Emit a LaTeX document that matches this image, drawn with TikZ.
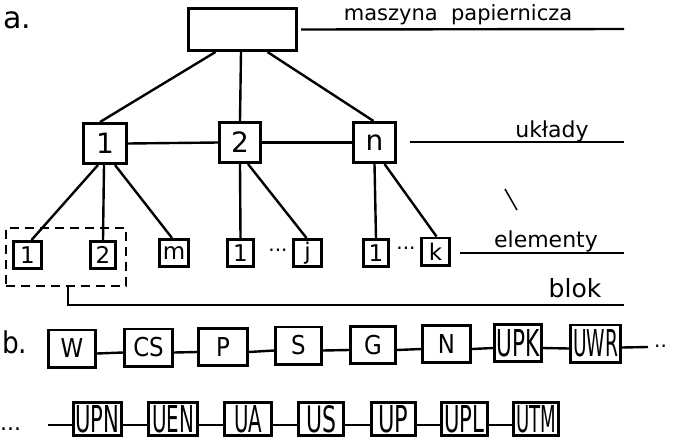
\documentclass[tikz,border=0pt]{standalone}
\usepackage{graphicx}
\usepackage{fontspec}
\setmainfont{DejaVu Sans}
\newfontfamily\semifont[FakeStretch=0.88]{DejaVu Sans}
\newcommand{\tl}[2]{\resizebox{#1pt}{27pt}{#2}}

\begin{document}
\begin{tikzpicture}[x=1pt,y=-1pt,
  hbox/.style={draw, line width=3pt, inner sep=0pt, minimum width=#1, minimum height=40pt,
    font=\fontsize{28}{28}\selectfont},
  hbox/.default=42pt,
  elem/.style={draw, line width=2.8pt, inner sep=0pt, minimum width=#1, minimum height=27.2pt,
    font=\fontsize{23}{23}\selectfont},
  elem/.default=27pt,
  cbox/.style={draw, line width=2.8pt, inner sep=0pt, minimum width=#1, minimum height=37.2pt,
    font=\semifont\fontsize{26}{26}\selectfont},
  cbox/.default=48pt,
  dbox/.style={cbox=#1, minimum height=33.2pt},
  link/.style={line width=2.4pt},
  lab/.style={anchor=base, inner sep=0pt},
  dots/.style={inner sep=0pt, font=\fontsize{20}{20}\selectfont}
]
\useasboundingbox (0,0) rectangle (675,440);

% ---------- part a: hierarchy ----------
\node[lab, anchor=base west, font=\fontsize{30}{30}\selectfont] (la) at (3,28) {a.};

\node[draw, line width=3pt, inner sep=0pt, minimum width=108pt, minimum height=42pt]
  (top) at (242.5,29.5) {};

\node[hbox=43pt] (b1) at (105,143.5) {1};
\node[hbox=41pt] (b2) at (240,142.5) {2};
\node[hbox=42pt] (bn) at (374.5,142.5) {n};

\draw[link] ([xshift=-27pt]top.south) -- ([xshift=-5pt]b1.north);
\draw[link] ([xshift=-1.5pt]top.south) -- (b2.north);
\draw[link] ([xshift=25pt]top.south) -- ([xshift=-1pt]bn.north);
\draw[link] (b1.east) -- (b2.west);
\draw[link] (b2.east) -- (bn.west);

% elements
\node[elem=28.2pt] (e11) at (27.5,255) {1};
\node[elem=25.2pt] (e12) at (103,255) {2};
\node[elem=29.2pt] (e1m) at (174,253) {m};
\node[elem=26.2pt] (e21) at (240.5,253) {1};
\node[elem=28.2pt] (e2j) at (307.5,253) {j};
\node[elem=25.2pt] (en1) at (376,253) {1};
\node[elem=28.2pt] (enk) at (435.5,251.5) {k};
\node[dots] (d1) at (278,250) {...};
\node[dots] (d2) at (406,248.5) {...};

\draw[link] ([xshift=-7pt]b1.south) -- ([xshift=4pt]e11.north);
\draw[link] ([xshift=-1pt]b1.south) -- (e12.north);
\draw[link] ([xshift=10pt]b1.south) -- ([xshift=-2pt]e1m.north);
\draw[link] (b2.south) -- (e21.north);
\draw[link] ([xshift=8pt]b2.south) -- ([xshift=-1pt]e2j.north);
\draw[link] (bn.south) -- (en1.north);
\draw[link] ([xshift=10pt]bn.south) -- ([xshift=1pt]enk.north);

% block frame and its leader
\node[draw, dashed, dash pattern=on 9pt off 6pt, line width=2.4pt, inner sep=0pt,
  minimum width=120pt, minimum height=58pt] (blk) at (66,257) {};
\coordinate (blokend) at (624,305);
\draw[link] ([xshift=2pt]blk.south) |- (blokend);

% level labels
\coordinate (mpend) at (624,29);
\draw[link] ([xshift=3pt]top.east) -- (mpend);
\node[lab, font=\fontsize{21}{21}\selectfont] (tmp) at (458,20) {maszyna\ \ papiernicza};

\coordinate (ukl0) at (410,142);
\coordinate (ukl1) at (624,142);
\draw[link] (ukl0) -- (ukl1);
\node[lab, font=\fontsize{22}{22}\selectfont] (tukl) at (552,137) {układy};

\coordinate (el0) at (460,253);
\coordinate (el1) at (624,253);
\draw[link] (el0) -- (el1);
\node[lab, font=\fontsize{22}{22}\selectfont] (tel) at (546,247) {elementy};

\node[lab, font=\fontsize{25}{25}\selectfont] (tblok) at (575,297) {blok};

% stray pen stroke
\draw[line width=1.5pt] (505,189) -- (517,210);

% ---------- part b: chain of units ----------
\node[lab, anchor=base west, font=\semifont\fontsize{30}{30}\selectfont] (lb) at (2,353) {b.};

\node[cbox=47.2pt] (W)   at (72,348.5) {W};
\node[cbox=48.2pt] (CS)  at (148.5,347.5) {CS};
\node[cbox=49.2pt] (P)   at (223,347) {P};
\node[cbox=46.2pt] (S)   at (298.5,345.5) {S};
\node[cbox=45.2pt] (G)   at (373,345) {G};
\node[cbox=48.2pt] (N)   at (446.5,344) {N};
\node[cbox=47.2pt] (UPK) at (518,343) {\tl{43}{UPK}};
\node[cbox=50.2pt] (UWR) at (595.5,343.5) {\tl{45}{UWR}};

\foreach \a/\b in {W/CS, CS/P, P/S, S/G, G/N, N/UPK, UPK/UWR}
  \draw[link] ([yshift=-5pt]\a.east) -- ([yshift=-5pt]\b.west);
\coordinate (rowend) at (648,347);
\draw[link] ([yshift=-4pt]UWR.east) -- (rowend);
\node[lab, anchor=base west, font=\fontsize{20}{20}\selectfont] (dd1) at (654,347) {..};

\node[lab, anchor=base west, font=\fontsize{22}{22}\selectfont] (dd2) at (0,430) {...};
\coordinate (rowstart) at (48,425);

\node[dbox=48.2pt] (UPN) at (97.5,419) {\tl{44}{UPN}};
\node[dbox=49.2pt] (UEN) at (173,419) {\tl{42}{UEN}};
\node[dbox=47.2pt] (UA)  at (248,419) {\tl{28}{UA}};
\node[dbox=45.2pt] (US)  at (321,419) {\tl{30}{US}};
\node[dbox=44.2pt] (UP)  at (393.5,419) {\tl{30}{UP}};
\node[dbox=46.2pt] (UPL) at (464.5,419) {\tl{40}{UPL}};
\node[dbox=45.2pt] (UTM) at (536,419) {\tl{40}{UTM}};

\draw[link] (rowstart) -- ([yshift=-6pt]UPN.west);
\foreach \a/\b in {UPN/UEN, UEN/UA, UA/US, US/UP, UP/UPL, UPL/UTM}
  \draw[link] ([yshift=-6pt]\a.east) -- ([yshift=-6pt]\b.west);
\end{tikzpicture}
\end{document}
